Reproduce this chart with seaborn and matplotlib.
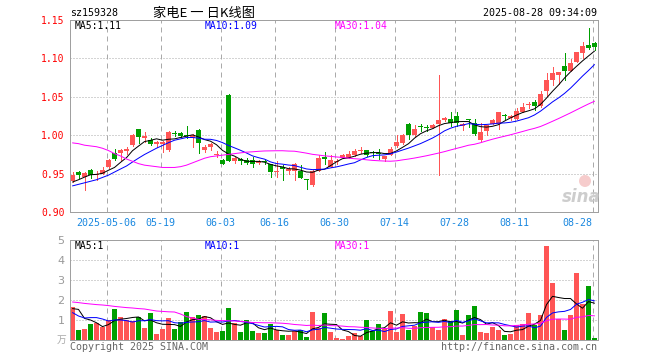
import numpy as np
import pandas as pd
import matplotlib
matplotlib.use("Agg")
import matplotlib.pyplot as plt
from matplotlib.patches import Ellipse
import seaborn as sns

# ---------------- data ----------------
holidays = ["2025-05-01", "2025-05-02", "2025-05-05", "2025-06-02"]
dates = [d for d in pd.bdate_range("2025-04-23", "2025-08-28") if d.strftime("%Y-%m-%d") not in holidays]

open_ = [0.940, 0.952, 0.946, 0.955, 0.948, 0.950, 0.958, 0.977, 0.977, 0.980,
         0.987, 1.008, 0.997, 0.994, 0.989, 0.989, 0.981, 1.003, 1.003, 1.000,
         0.997, 1.007, 0.981, 0.984, 0.974, 0.968, 1.052, 0.967, 0.969, 0.968,
         0.968, 0.964, 0.9655, 0.962, 0.952, 0.9585, 0.953, 0.954, 0.953, 0.9425,
         0.9346, 0.954, 0.9716, 0.9585, 0.965, 0.9707, 0.9707, 0.9738, 0.979, 0.9803,
         0.978, 0.977, 0.9694, 0.9742, 0.9855, 0.9899, 1.015, 1.000, 1.0115, 1.0108,
         1.010, 1.0142, 1.020, 1.0216, 1.0247, 1.0116, 1.0198, 1.0164, 0.9933, 1.0055,
         1.015, 1.0142, 1.0268, 1.023, 1.0208, 1.0303, 1.039, 1.0434, 1.0377, 1.0577,
         1.0725, 1.079, 1.090, 1.0834, 1.0956, 1.1074, 1.1174, 1.1195]
high = [0.952, 0.953, 0.952, 0.956, 0.953, 0.958, 0.969, 0.982, 0.982, 0.984,
        1.001, 1.008, 1.004, 0.996, 0.993, 0.993, 1.005, 1.005, 1.004, 1.012,
        1.001, 1.008, 0.987, 0.990, 0.980, 0.969, 1.053, 0.971, 0.970, 0.970,
        0.971, 0.968, 0.968, 0.963, 0.967, 0.961, 0.958, 0.964, 0.961, 0.943,
        0.955, 0.974, 0.978, 0.9738, 0.969, 0.975, 0.979, 0.9816, 0.9846, 0.981,
        0.980, 0.9824, 0.9725, 0.9846, 1.000, 1.001, 1.016, 1.0129, 1.015, 1.013,
        1.0145, 1.078, 1.0235, 1.030, 1.0303, 1.016, 1.0216, 1.0208, 1.016, 1.013,
        1.0215, 1.030, 1.027, 1.0268, 1.036, 1.042, 1.0434, 1.0456, 1.057, 1.0812,
        1.089, 1.0817, 1.1065, 1.0987, 1.1087, 1.1217, 1.139, 1.1217]
low = [0.939, 0.944, 0.929, 0.944, 0.942, 0.949, 0.957, 0.968, 0.968, 0.976,
       0.986, 0.990, 0.991, 0.987, 0.984, 0.978, 0.980, 0.9995, 0.998, 0.997,
       0.984, 0.977, 0.978, 0.981, 0.972, 0.962, 0.966, 0.964, 0.963, 0.962,
       0.958, 0.962, 0.962, 0.946, 0.946, 0.942, 0.950, 0.942, 0.944, 0.930,
       0.934, 0.953, 0.962, 0.958, 0.962, 0.970, 0.970, 0.973, 0.977, 0.973,
       0.972, 0.9694, 0.966, 0.974, 0.985, 0.989, 0.9946, 0.999, 1.006, 1.006,
       1.009, 0.948, 1.019, 1.0116, 1.0116, 1.0064, 1.0107, 1.000, 0.9925, 1.000,
       1.014, 1.0086, 1.0216, 1.0195, 1.0205, 1.030, 1.036, 1.0334, 1.037, 1.0508,
       1.065, 1.0673, 1.0725, 1.083, 1.095, 1.100, 1.1117, 1.111]
close = [0.948, 0.948, 0.951, 0.948, 0.950, 0.955, 0.968, 0.969, 0.981, 0.981,
         1.000, 0.998, 0.9985, 0.989, 0.991, 0.991, 1.004, 1.001, 0.9985, 0.999,
         1.000, 0.990, 0.984, 0.988, 0.976, 0.963, 0.967, 0.970, 0.9665, 0.964,
         0.962, 0.967, 0.965, 0.952, 0.954, 0.9555, 0.9555, 0.963, 0.9446, 0.942,
         0.9533, 0.970, 0.9685, 0.968, 0.967, 0.9738, 0.975, 0.9794, 0.981, 0.9738,
         0.977, 0.976, 0.9725, 0.9816, 0.9907, 0.9999, 1.000, 1.0086, 1.0105, 1.0095,
         1.0138, 1.0195, 1.0225, 1.016, 1.016, 1.015, 1.0192, 1.0012, 1.0042, 1.013,
         1.0203, 1.0299, 1.0247, 1.0247, 1.0312, 1.0369, 1.0412, 1.0377, 1.0534, 1.0725,
         1.0812, 1.0817, 1.0834, 1.0934, 1.1087, 1.1165, 1.1139, 1.1152]
volume = [1.63, 0.5, 0.55, 0.8, 0.83, 0.67, 1.0, 1.57, 1.13, 1.0,
          0.93, 1.13, 0.6, 1.35, 0.3, 0.55, 1.1, 0.55, 0.9, 1.4,
          1.13, 1.25, 1.18, 0.6, 0.4, 0.47, 1.6, 0.83, 0.4, 1.0,
          0.45, 0.37, 0.37, 0.8, 0.52, 0.25, 0.25, 0.45, 0.5, 0.17,
          1.42, 0.6, 1.35, 0.4, 0.1, 0.06, 0.2, 0.37, 0.22, 1.0,
          0.45, 0.8, 0.6, 1.45, 0.4, 1.3, 0.5, 0.68, 1.4, 1.35,
          0.65, 0.5, 1.05, 0.93, 1.5, 0.25, 1.25, 1.7, 0.4, 0.35,
          0.65, 0.5, 0.25, 0.3, 0.75, 0.8, 1.35, 0.75, 1.25, 4.7,
          2.87, 1.05, 0.5, 1.25, 3.35, 1.8, 2.7, 0.1]

# moving-average values before a full window is available
ma5_head = [0.939, 0.942, 0.9454, 0.9485]
ma10_head = [0.934, 0.936, 0.938, 0.940, 0.942, 0.945, 0.948, 0.952, 0.956]
ma30_head = [0.990, 0.989, 0.987, 0.986, 0.985, 0.983, 0.980, 0.976, 0.973, 0.969,
             0.966, 0.963, 0.961, 0.960, 0.959, 0.958, 0.958, 0.958, 0.959, 0.961,
             0.964, 0.967, 0.970, 0.972, 0.973, 0.974, 0.975, 0.976, 0.977]
vma5_head = [1.57, 1.53, 1.08, 1.0]
vma10_head = [1.37, 1.2, 1.1, 1.12, 1.12, 1.05, 0.95, 1.0, 1.0]
vma30_head = [1.9, 1.87, 1.83, 1.8, 1.77, 1.75, 1.72, 1.68, 1.65, 1.62,
              1.6, 1.57, 1.55, 1.5, 1.45, 1.43, 1.41, 1.4, 1.3, 1.17,
              1.1, 1.03, 1.02, 1.01, 0.98, 0.97, 0.96, 0.95, 0.93]

tick_dates = ["2025-05-06", "2025-05-19", "2025-06-03", "2025-06-16", "2025-06-30",
              "2025-07-14", "2025-07-28", "2025-08-11", "2025-08-28"]
tick_labels = ["2025-05-06", "05-19", "06-03", "06-16", "06-30", "07-14", "07-28", "08-11", "08-28"]
price_ticks = [0.90, 0.95, 1.00, 1.05, 1.10, 1.15]
vol_ticks = [1, 2, 3, 4, 5]


def moving(values, n, head):
    m = pd.Series(values).rolling(n).mean().to_numpy()
    m[:n - 1] = head
    return m


o = np.array(open_); h = np.array(high); l = np.array(low); c = np.array(close)
v = np.array(volume)
idx = np.arange(len(c))
ma5 = moving(c, 5, ma5_head)
ma10 = moving(c, 10, ma10_head)
ma30 = moving(c, 30, ma30_head)
vma5 = moving(v, 5, vma5_head)
vma10 = moving(v, 10, vma10_head)
vma30 = moving(v, 30, vma30_head)

# ---------------- style ----------------
sns.set_style("white")
plt.rcParams["font.family"] = ["DejaVu Sans Mono", "Noto Sans CJK SC"]
plt.rcParams["axes.linewidth"] = 0.72

RED = "#ff5555"
GREEN = "#009f00"
GRID = "#aaaaaa"
FRAME = "#a0a0a0"
PX = 0.72  # one pixel in points

W, H = 660, 360
fig = plt.figure(figsize=(W / 100, H / 100), dpi=100)


def fx(x):
    return x / W


def fy(y):
    return 1 - y / H


ax1 = fig.add_axes([fx(70), fy(212), fx(528), 192 / H])
ax2 = fig.add_axes([fx(70), fy(340), fx(528), 100 / H])

xlim = ((70 - 72.5) / 6, (598 - 72.5) / 6)
up = c >= o
colors = np.where(up, RED, GREEN)
body_w = 5 / 6

# candles
ax1.vlines(idx, l, h, colors=colors, lw=PX, antialiased=False)
body_lo = np.minimum(o, c)
body_h = np.maximum(np.abs(c - o), 0.0014)
ax1.bar(idx, body_h, bottom=body_lo, width=body_w, color=colors, linewidth=0, antialiased=False)

sns.lineplot(x=idx, y=ma5, ax=ax1, color="black", lw=PX)
sns.lineplot(x=idx, y=ma10, ax=ax1, color="#0000ff", lw=PX)
sns.lineplot(x=idx, y=ma30, ax=ax1, color="#ff00ff", lw=PX)

# volume
ax2.bar(idx, v, width=body_w, color=colors, linewidth=0, antialiased=False)
sns.lineplot(x=idx, y=vma5, ax=ax2, color="black", lw=PX)
sns.lineplot(x=idx, y=vma10, ax=ax2, color="#0000ff", lw=PX)
sns.lineplot(x=idx, y=vma30, ax=ax2, color="#ff00ff", lw=PX)

date_str = [d.strftime("%Y-%m-%d") for d in dates]
tick_pos = [date_str.index(t) - 1 / 3 for t in tick_dates]

for ax in (ax1, ax2):
    ax.set_xlim(*xlim)
    for tp in tick_pos:
        ax.axvline(tp, color=GRID, lw=PX, ls=(0, (5, 4)), zorder=0)
    for s in ax.spines.values():
        s.set_color(FRAME)
        s.set_linewidth(PX)
    ax.set_xlabel("")
    ax.set_ylabel("")

ax1.set_ylim(0.90, 1.15)
for yv in price_ticks[1:-1]:
    ax1.axhline(yv, color=GRID, lw=PX, ls=(0, (1, 2)), zorder=0)
ax1.set_yticks(price_ticks)
ax1.set_yticklabels([f"{t:.2f}" for t in price_ticks], color="#ff0000", fontsize=7)
ax1.tick_params(axis="y", length=0, pad=4)
ax1.set_xticks(tick_pos)
ax1.set_xticklabels(tick_labels, color="#1a88e0", fontsize=7.2)
ax1.tick_params(axis="x", length=0, pad=4)
xl = ax1.get_xticklabels()
xl[-1].set_horizontalalignment("right")

ax2.set_ylim(0, 5)
for yv in vol_ticks[:-1]:
    ax2.axhline(yv, color=GRID, lw=PX, ls=(0, (1, 2)), zorder=0)
ax2.set_yticks(vol_ticks)
ax2.set_yticklabels([str(t) for t in vol_ticks], color="#999999", fontsize=8,
                    family="DejaVu Sans")
ax2.tick_params(axis="y", length=0, pad=4)
ax2.set_xticks([])

# texts
fig.text(fx(70), fy(13), "sz159328", fontsize=7.2, va="center", ha="left", color="black")
fig.text(fx(204), fy(13), "家电E 一 日K线图", fontsize=9.5, va="center", ha="center",
         color="black", family=["Noto Sans CJK SC", "DejaVu Sans"])
fig.text(fx(597), fy(13), "2025-08-28 09:34:09", fontsize=7.2, va="center", ha="right", color="black")

fig.text(fx(75), fy(26), f"MA5:{ma5[-1]:.2f}", fontsize=7, va="center", color="black")
fig.text(fx(205), fy(26), f"MA10:{ma10[-1]:.2f}", fontsize=7, va="center", color="#0000ff")
fig.text(fx(335), fy(26), f"MA30:{ma30[-1]:.2f}", fontsize=7, va="center", color="#ff00ff")

fig.text(fx(75), fy(246), f"MA5:{int(vma5[-1])}", fontsize=7, va="center", color="black")
fig.text(fx(205), fy(246), f"MA10:{int(vma10[-1])}", fontsize=7, va="center", color="#0000ff")
fig.text(fx(335), fy(246), f"MA30:{int(vma30[-1])}", fontsize=7, va="center", color="#ff00ff")

fig.text(fx(66), fy(340), "万", fontsize=7, va="center", ha="right", color="#aaaaaa",
         family=["Noto Sans CJK SC", "DejaVu Sans"])
fig.text(fx(70), fy(347), "Copyright 2025 SINA.COM", fontsize=7.2, va="center", ha="left", color="#666666")
fig.text(fx(597), fy(347), "http://finance.sina.com.cn", fontsize=7.2, va="center", ha="right", color="#666666")

# watermark
fig.text(fx(581), fy(197), "sina", fontsize=12, fontweight="bold", style="italic", va="center",
         ha="center", color="#c8c8c8", family="DejaVu Sans", alpha=0.9)
fig.add_artist(Ellipse((fx(585), fy(181)), width=fx(12), height=12 / H,
                       transform=fig.transFigure, facecolor="#f4c0c0", edgecolor="none", alpha=0.8))

fig.savefig("out.png", dpi=100)
